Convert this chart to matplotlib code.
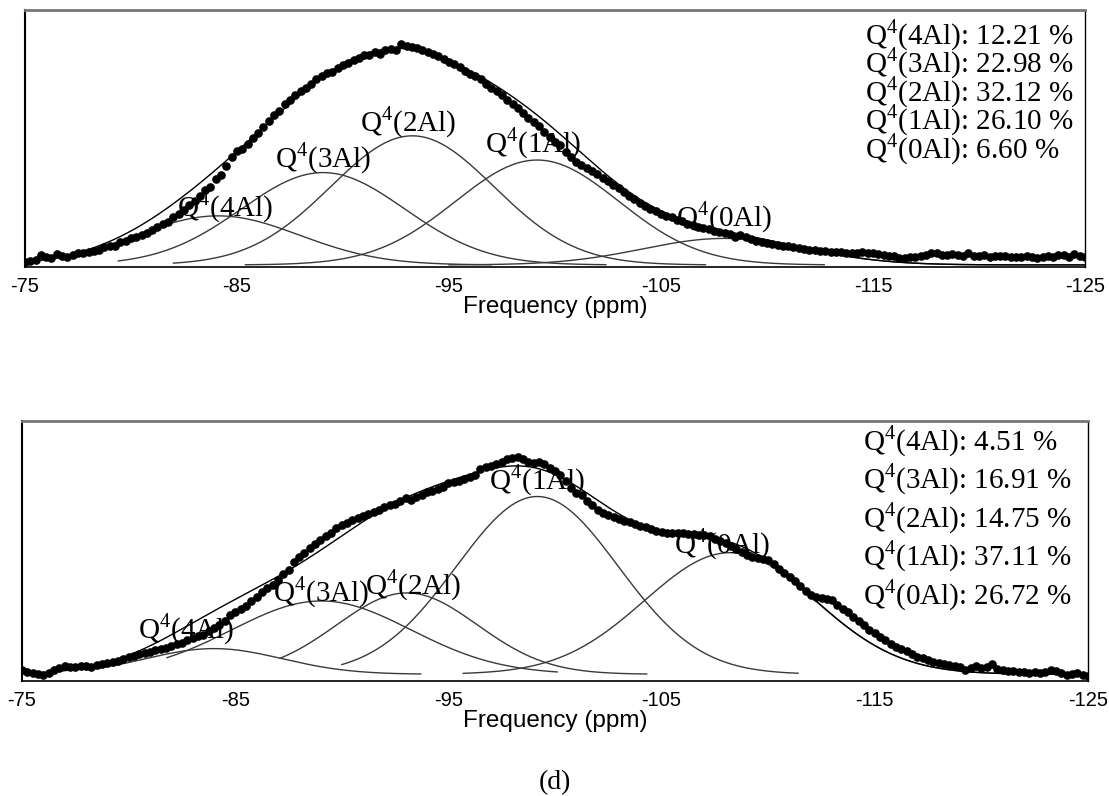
import numpy as np
import matplotlib.pyplot as plt

plt.rcParams['axes.unicode_minus'] = False
plt.rcParams['mathtext.fontset'] = 'custom'
plt.rcParams['mathtext.rm'] = 'Liberation Serif'

sites = ['4Al', '3Al', '2Al', '1Al', '0Al']
ticks = [-75, -85, -95, -105, -115, -125]

# ---- upper spectrum: measured points (every 0.25 ppm from -75 to -125)
top_obs = [
    0.012, 0.015, 0.020, 0.038, 0.030, 0.028, 0.042, 0.036, 0.030, 0.040, 0.045, 0.048,
    0.052, 0.055, 0.060, 0.068, 0.072, 0.074, 0.088, 0.092, 0.104, 0.108, 0.118, 0.126,
    0.137, 0.146, 0.160, 0.168, 0.185, 0.198, 0.215, 0.232, 0.250, 0.268, 0.290, 0.305,
    0.335, 0.350, 0.385, 0.420, 0.445, 0.452, 0.470, 0.495, 0.515, 0.535, 0.560, 0.585,
    0.600, 0.625, 0.640, 0.662, 0.678, 0.690, 0.705, 0.722, 0.735, 0.745, 0.752, 0.765,
    0.776, 0.785, 0.798, 0.805, 0.815, 0.818, 0.828, 0.822, 0.835, 0.842, 0.838, 0.860,
    0.852, 0.848, 0.845, 0.838, 0.830, 0.820, 0.812, 0.800, 0.790, 0.780, 0.770, 0.755,
    0.742, 0.735, 0.722, 0.705, 0.690, 0.675, 0.660, 0.642, 0.625, 0.610, 0.592, 0.572,
    0.555, 0.540, 0.518, 0.498, 0.478, 0.465, 0.440, 0.418, 0.400, 0.390, 0.378, 0.365,
    0.355, 0.340, 0.325, 0.312, 0.298, 0.285, 0.270, 0.255, 0.242, 0.230, 0.218, 0.208,
    0.200, 0.192, 0.185, 0.176, 0.170, 0.160, 0.155, 0.148, 0.143, 0.138, 0.132, 0.128,
    0.124, 0.120, 0.110, 0.115, 0.110, 0.102, 0.095, 0.090, 0.085, 0.082, 0.078, 0.075,
    0.072, 0.068, 0.065, 0.062, 0.060, 0.058, 0.055, 0.053, 0.052, 0.050, 0.049, 0.048,
    0.048, 0.046, 0.050, 0.047, 0.046, 0.042, 0.038, 0.035, 0.033, 0.028, 0.025, 0.030,
    0.032, 0.036, 0.040, 0.045, 0.046, 0.040, 0.038, 0.042, 0.039, 0.035, 0.045, 0.036,
    0.033, 0.038, 0.030, 0.036, 0.035, 0.033, 0.032, 0.030, 0.030, 0.036, 0.030, 0.028,
    0.030, 0.034, 0.032, 0.040, 0.039, 0.030, 0.042, 0.036, 0.030,
]
# fitted Gaussian components: centre (ppm), sigma (ppm), area (%)
top_center = [-84.1, -89.06, -93.27, -99.16, -108.0]
top_sigma = [3.85, 3.85, 3.85, 3.85, 3.85]
top_pct = [12.21, 22.98, 32.12, 26.10, 6.60]
top_lo = [-75.5, -79.4, -82.0, -85.4, -95.0]
top_hi = [-97.0, -102.4, -107.1, -112.7, -125.0]
top_scale = 6.02

# ---- lower spectrum
bot_obs = [
    0.017, 0.010, 0.005, 0.000, -0.003, 0.005, 0.015, 0.024, 0.030, 0.026, 0.028, 0.032,
    0.030, 0.027, 0.034, 0.038, 0.042, 0.047, 0.052, 0.060, 0.068, 0.072, 0.077, 0.083,
    0.087, 0.092, 0.098, 0.102, 0.109, 0.115, 0.122, 0.130, 0.138, 0.146, 0.150, 0.165,
    0.178, 0.190, 0.205, 0.228, 0.240, 0.252, 0.262, 0.280, 0.298, 0.315, 0.330, 0.345,
    0.362, 0.385, 0.400, 0.430, 0.452, 0.468, 0.485, 0.502, 0.516, 0.532, 0.545, 0.562,
    0.574, 0.580, 0.592, 0.600, 0.610, 0.618, 0.625, 0.632, 0.642, 0.650, 0.655, 0.668,
    0.676, 0.672, 0.682, 0.690, 0.700, 0.706, 0.712, 0.722, 0.734, 0.740, 0.742, 0.752,
    0.760, 0.768, 0.790, 0.796, 0.800, 0.810, 0.815, 0.828, 0.830, 0.835, 0.826, 0.818,
    0.812, 0.815, 0.808, 0.795, 0.780, 0.765, 0.742, 0.718, 0.698, 0.688, 0.668, 0.650,
    0.632, 0.622, 0.612, 0.605, 0.598, 0.590, 0.585, 0.578, 0.572, 0.565, 0.558, 0.552,
    0.548, 0.545, 0.544, 0.542, 0.542, 0.540, 0.538, 0.536, 0.535, 0.530, 0.522, 0.512,
    0.503, 0.495, 0.482, 0.470, 0.458, 0.452, 0.448, 0.442, 0.438, 0.425, 0.405, 0.390,
    0.375, 0.358, 0.340, 0.322, 0.305, 0.298, 0.292, 0.288, 0.285, 0.268, 0.252, 0.238,
    0.222, 0.205, 0.188, 0.172, 0.157, 0.145, 0.130, 0.118, 0.106, 0.098, 0.088, 0.076,
    0.068, 0.062, 0.055, 0.048, 0.042, 0.038, 0.034, 0.031, 0.029, 0.018, 0.025, 0.030,
    0.023, 0.028, 0.038, 0.022, 0.017, 0.014, 0.012, 0.010, 0.010, 0.006, 0.008, 0.004,
    0.010, 0.016, 0.012, 0.005, -0.003, 0.002, 0.006, -0.004, -0.006,
]
bot_center = [-84.0, -89.04, -93.06, -99.17, -108.2]
bot_sigma = [3.2, 4.2, 3.3, 3.8, 4.0]
bot_pct = [4.51, 16.91, 14.75, 37.11, 26.72]
bot_lo = [-78.0, -81.8, -87.1, -90.0, -95.7]
bot_hi = [-93.7, -100.1, -104.3, -111.4, -125.0]
bot_scale = 7.0


def gauss(x, c, s, h):
    return h * np.exp(-(x - c) ** 2 / (2 * s ** 2))


def q4(name):
    return r'Q$^{\mathregular{4}}$(' + name + ')'


def draw_panel(ax, obs, center, sigma, pct, lo, hi, scale, ylim,
               text_xy, spacing, lab_dx, lab_dy):
    heights = [p / 100 * scale / s for p, s in zip(pct, sigma)]
    grid = np.linspace(-75, -125, 1001)
    fit = np.zeros_like(grid)
    for c, s, h, a, b in zip(center, sigma, heights, lo, hi):
        fit += gauss(grid, c, s, h)
        xs = np.linspace(a, b, 300)
        ax.plot(xs, gauss(xs, c, s, h), color='#3a3a3a', lw=1.0, zorder=2)
    ax.plot(grid, fit, color='black', lw=1.0, zorder=2.5)

    x_obs = np.linspace(-75, -125, len(obs))
    ax.plot(x_obs, obs, 'o', color='black', ms=5.2, zorder=3)

    for name, c, h, dx, dy in zip(sites, center, heights, lab_dx, lab_dy):
        ax.text(c + dx, h + dy, q4(name), ha='center', va='baseline',
                fontsize=21, family='Liberation Serif', zorder=4)

    block = '\n'.join(q4(n) + ': %.2f %%' % p for n, p in zip(sites, pct))
    ax.text(text_xy[0], text_xy[1], block, transform=ax.transAxes,
            ha='left', va='center', multialignment='left', fontsize=21,
            linespacing=spacing, family='Liberation Serif')

    ax.set_xlim(-75, -125)
    ax.set_ylim(*ylim)
    ax.set_xticks(ticks)
    ax.set_xticklabels([str(t) for t in ticks], family='Liberation Sans', fontsize=14.5)
    ax.set_yticks([])
    ax.tick_params(axis='x', length=0, pad=7)
    ax.set_xlabel('Frequency (ppm)', family='Liberation Sans', fontsize=17.5, labelpad=0)
    ax.spines['top'].set_color('#777777')
    ax.spines['top'].set_linewidth(2.0)
    ax.spines['left'].set_linewidth(1.5)
    ax.spines['right'].set_linewidth(1.0)
    ax.spines['bottom'].set_linewidth(1.2)


fig = plt.figure(figsize=(11.09, 7.96), dpi=100)
ax1 = fig.add_axes([0.02254, 0.6646, 0.9558, 0.3229])
ax2 = fig.add_axes([0.01984, 0.14447, 0.96123, 0.32663])

draw_panel(ax1, top_obs, top_center, top_sigma, top_pct, top_lo, top_hi, top_scale,
           (-0.008, 0.992), (0.7925, 0.681), 0.73,
           [-0.35, 0.0, 0.2, 0.2, 0.0], [0.0, 0.02, 0.02, 0.03, 0.05])
draw_panel(ax2, bot_obs, bot_center, bot_sigma, bot_pct, bot_lo, bot_hi, bot_scale,
           (-0.026, 0.974), (0.789, 0.627), 1.11,
           [1.3, 0.0, -0.3, 0.0, 0.35], [0.04, 0.0, -0.005, 0.03, 0.0])

fig.text(0.5, 1 - 783 / 796, '(d)', ha='center', va='center', fontsize=20,
         family='Liberation Serif')

fig.savefig('out.png', dpi=100)
